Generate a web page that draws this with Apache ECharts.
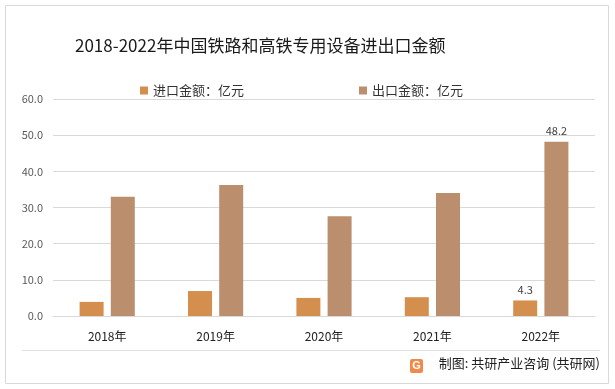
<!DOCTYPE html>
<html><head><meta charset="utf-8">
<script src="https://cdn.jsdelivr.net/npm/echarts@6/dist/echarts.min.js"></script>
<style>html,body{margin:0;padding:0;background:#fff}#c{width:615px;height:389px}</style>
</head><body><div id="c"></div>
<script>
const categories = ['2018年','2019年','2020年','2021年','2022年'];
const importValues = [3.9, 6.9, 5.0, 5.2, 4.3];
const exportValues = [33.0, 36.2, 27.6, 34.0, 48.2];
const seriesNames = ['进口金额：亿元','出口金额：亿元'];
const yTicks = {min: 0, max: 60, interval: 10};

const font = '"Noto Sans CJK SC","Noto Sans",sans-serif';
function withLastLabel(arr){
  return arr.map((v,i)=> i===arr.length-1 ? {value:v, label:{show:true}} : v);
}
const chart = echarts.init(document.getElementById('c'));
chart.setOption({
  animation:false,
  backgroundColor:'#fff',
  title:{text:'2018-2022年中国铁路和高铁专用设备进出口金额', left:70, top:32,
    textStyle:{fontFamily:font, fontSize:17, fontWeight:'normal', color:'#1a1a1a'}},
  legend:{top:79, left:135, itemGap:115, itemWidth:8, itemHeight:8, icon:'rect',
    textStyle:{fontFamily:font, fontSize:13, color:'#333'}},
  grid:{left:53, right:20, top:99, bottom:73},
  xAxis:{type:'category', data:categories,
    axisLine:{lineStyle:{color:'#d9d9d9'}}, axisTick:{show:false},
    axisLabel:{fontFamily:font, fontSize:12, color:'#222', margin:14}},
  yAxis:{type:'value', min:yTicks.min, max:yTicks.max, interval:yTicks.interval,
    axisLabel:{formatter:v=>v.toFixed(1), fontFamily:font, fontSize:11, color:'#595959', margin:10},
    splitLine:{lineStyle:{color:'#d9d9d9'}}, axisLine:{show:false}, axisTick:{show:false}},
  series:[
    {name:seriesNames[0], type:'bar', data:withLastLabel(importValues), barWidth:24, barGap:'30%',
      itemStyle:{color:'#D48E4E'},
      label:{show:false, position:'top', fontFamily:font, fontSize:11, color:'#404040', formatter:p=>p.value.toFixed(1)}},
    {name:seriesNames[1], type:'bar', data:withLastLabel(exportValues), barWidth:24,
      itemStyle:{color:'#BB8F6D'},
      label:{show:false, position:'top', fontFamily:font, fontSize:11, color:'#404040', formatter:p=>p.value.toFixed(1)}}
  ],
  graphic:[
    {type:'rect', shape:{x:5.5,y:5.5,width:603,height:378}, style:{fill:null, stroke:'#d9d9d9', lineWidth:1}, silent:true},
    {type:'line', shape:{x1:22,y1:350.5,x2:600,y2:350.5}, style:{stroke:'#e0e0e0', lineWidth:1}},
    {type:'rect', shape:{x:410,y:359,width:13,height:14, r:2}, style:{fill:'#F08A4B'}},
    {type:'text', x:416.5, y:366, style:{text:'G', fill:'#fff', font:'bold 11px sans-serif', align:'center', verticalAlign:'middle'}},
    {type:'text', right:15, top:357, style:{text:'制图: 共研产业咨询 (共研网)', fill:'#222', font:'13px '+font}}
  ]
});
</script></body></html>
